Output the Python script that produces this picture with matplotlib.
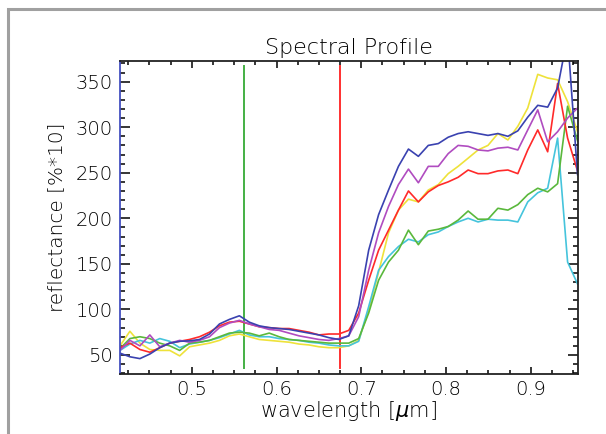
import matplotlib
matplotlib.use('Agg')
import matplotlib.pyplot as plt
from matplotlib.patches import Rectangle
from matplotlib.ticker import MultipleLocator
import numpy as np

# band centres [um]
wavelength = [0.4154, 0.4271, 0.4389, 0.4506, 0.4623, 0.4741, 0.4858, 0.4975, 0.5092, 0.5210,
              0.5327, 0.5444, 0.5562, 0.5679, 0.5796, 0.5914, 0.6031, 0.6148, 0.6265, 0.6383,
              0.6500, 0.6617, 0.6735, 0.6852, 0.6969, 0.7087, 0.7204, 0.7321, 0.7438, 0.7556,
              0.7673, 0.7790, 0.7908, 0.8025, 0.8142, 0.8260, 0.8377, 0.8494, 0.8611, 0.8729,
              0.8846, 0.8963, 0.9081, 0.9198, 0.9315, 0.9433, 0.9550]

# reflectance [%*10]
blue = [52, 48, 46, 51, 58, 63, 65, 65.5, 67, 73,
        84, 89, 93, 86, 82, 80, 79, 78, 76, 74,
        72, 69, 67, 71, 104, 165, 204, 231, 257, 276,
        268, 280, 282, 289, 293, 295, 293, 291, 293, 290,
        296, 311, 324, 322, 343, 400, 248]
magenta = [55, 66, 60, 72, 59, 63, 66, 64, 66, 70,
           80, 85, 88, 84, 81, 78, 77, 74, 71, 69,
           67, 66, 68, 71, 92, 143, 184, 213, 237, 254,
           239, 257, 257, 271, 280, 279, 275, 274, 277, 278,
           275, 297, 319, 284, 295, 310, 321]
red = [58, 63, 56, 53, 58, 63, 65, 67, 70, 75,
       82, 86, 87, 84, 81, 80, 79, 79, 77, 75,
       72, 73, 73, 77, 96, 132, 165, 187, 209, 230,
       218, 229, 236, 240, 245, 253, 249, 249, 252, 253,
       249, 275, 297, 273, 348, 288, 252]
yellow = [60, 76, 63, 56, 55, 55, 49, 59, 61, 63,
          66, 71, 73, 70, 67, 66, 65, 64, 62, 61,
          59, 58, 58, 60, 66, 99, 141, 184, 209, 221,
          218, 231, 237, 249, 257, 266, 275, 280, 293, 286,
          301, 321, 358, 354, 352, 328, 295]
green = [57, 68, 70, 68, 63, 60, 55, 63, 64, 66,
         70, 74, 75, 74, 71, 74, 70, 67, 66, 65,
         64, 63, 63, 63, 68, 96, 132, 152, 165, 187,
         171, 186, 188, 191, 198, 208, 199, 199, 211, 209,
         215, 226, 233, 229, 238, 323, 285]
cyan = [55, 62, 66, 63, 68, 65, 58, 62, 64, 66,
        69, 73, 77, 72, 70, 70, 68, 67, 66, 64,
        63, 61, 60, 60, 65, 103, 143, 158, 169, 177,
        174, 182, 185, 191, 196, 200, 196, 199, 198, 198,
        196, 218, 228, 233, 288, 152, 128]

# band markers
marker_wl = [0.5621, 0.6752]
marker_colors = ['#44b044', '#ff3030']

plt.rcParams['font.family'] = ['DejaVu Sans']
plt.rcParams['font.weight'] = 'light'
plt.rcParams['mathtext.fontset'] = 'custom'
plt.rcParams['mathtext.it'] = 'DejaVu Sans:italic:light'

fig = plt.figure(figsize=(6.06, 4.34), dpi=100)
ax = fig.add_axes([0.198, 0.1376, 0.755, 0.7226])

fig.add_artist(Rectangle((7.5/606, -0.2), 1.5, 1.2 - 9/434, transform=fig.transFigure,
                         fill=False, ec='#a0a0a0', lw=2.2))

for wl, c in zip(marker_wl, marker_colors):
    ax.plot([wl, wl], [36, 367.5], color=c, lw=1.4)

series = [(yellow, '#eee23a'), (cyan, '#45c4dc'), (green, '#5ab83c'),
          (red, '#ff2a2a'), (magenta, '#b04cc0'), (blue, '#3a42b0')]
for vals, c in series:
    ax.plot(wavelength, vals, color=c, lw=1.2)

ax.set_xlim(0.4154, 0.955)
ax.set_ylim(28.8, 373)
ax.xaxis.set_minor_locator(MultipleLocator(0.025))
ax.yaxis.set_minor_locator(MultipleLocator(10))
ax.set_xticks([0.5, 0.6, 0.7, 0.8, 0.9])
ax.set_xticklabels(['0.5', '0.6', '0.7', '0.8', '0.9'])
ax.set_yticks([50, 100, 150, 200, 250, 300, 350])

ax.tick_params(axis='both', which='both', direction='in', top=True, right=True,
               labelsize=14, width=1.1, colors='black')
ax.tick_params(axis='x', which='major', length=5, pad=4)
ax.tick_params(axis='x', which='minor', length=3)
ax.tick_params(axis='y', which='major', length=7, pad=5)
ax.tick_params(axis='y', which='minor', length=3.6)
for s in ax.spines.values():
    s.set_linewidth(1.3)
    s.set_color('#222222')
ax.spines['left'].set_color('#4450c0')

ax.set_title('Spectral Profile', fontsize=16, color='black', fontweight='light', pad=5)
ax.set_xlabel(r'wavelength [$\mu$m]', fontsize=15, color='black', fontweight='light', labelpad=0)
ax.set_ylabel('reflectance [%*10]', fontsize=14.5, color='black', fontweight='light', labelpad=7)

fig.savefig('out.png', dpi=100)
